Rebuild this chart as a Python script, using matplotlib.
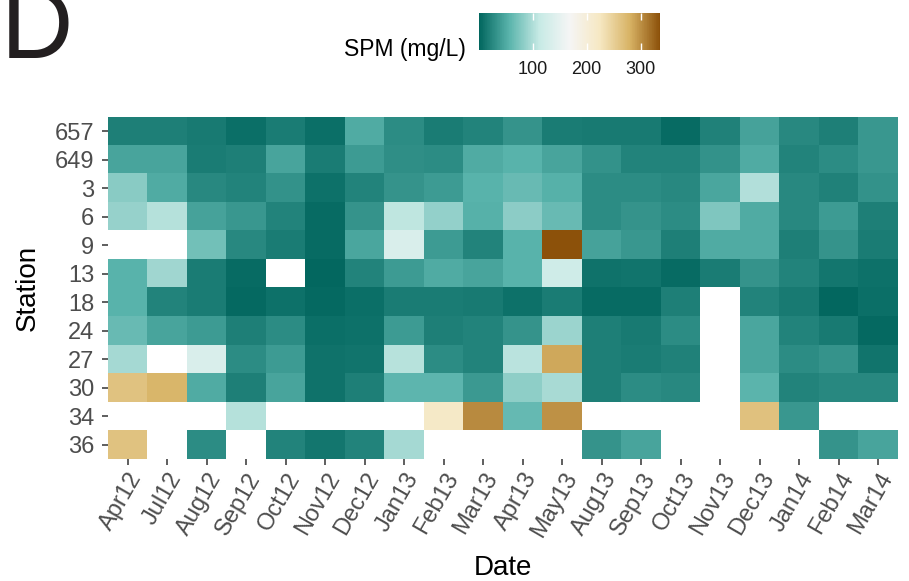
import numpy as np
import matplotlib
matplotlib.use("Agg")
import matplotlib.pyplot as plt
from matplotlib.colors import LinearSegmentedColormap

plt.rcParams["font.family"] = ["Liberation Sans", "DejaVu Sans"]

dates = ["Apr12", "Jul12", "Aug12", "Sep12", "Oct12", "Nov12", "Dec12", "Jan13",
         "Feb13", "Mar13", "Apr13", "May13", "Aug13", "Sep13", "Oct13", "Nov13",
         "Dec13", "Jan14", "Feb14", "Mar14"]
stations = ["657", "649", "3", "6", "9", "13", "18", "24", "27", "30", "34", "36"]

nan = np.nan
# SPM (mg/L), one list per station, one value per date
spm_657 = [19, 19, 15, 7, 16, 7, 51, 28, 17, 21, 33, 16, 15, 15, 5, 20, 44, 26, 19, 36]
spm_649 = [45, 45, 16, 19, 45, 16, 39, 30, 28, 50, 56, 45, 32, 21, 22, 32, 51, 21, 28, 36]
spm_3 = [81, 50, 25, 21, 32, 9, 21, 34, 39, 56, 64, 54, 28, 28, 26, 47, 102, 26, 20, 32]
spm_6 = [87, 103, 44, 36, 22, 5, 33, 108, 86, 54, 82, 63, 28, 34, 28, 76, 51, 26, 39, 19]
spm_9 = [nan, nan, 69, 26, 16, 5, 46, 135, 39, 21, 56, 337, 44, 36, 19, 50, 51, 19, 33, 16]
spm_13 = [56, 93, 16, 5, nan, 2, 21, 39, 50, 45, 56, 123, 10, 11, 5, 16, 33, 21, 13, 8]
spm_18 = [56, 21, 16, 3, 9, 3, 7, 16, 17, 15, 8, 17, 4, 4, 19, nan, 21, 15, 2, 7]
spm_24 = [63, 45, 39, 19, 28, 7, 8, 39, 19, 21, 34, 90, 19, 15, 28, nan, 47, 21, 15, 3]
spm_27 = [95, nan, 135, 28, 39, 10, 11, 104, 28, 21, 105, 285, 19, 16, 20, nan, 47, 28, 34, 11]
spm_30 = [263, 276, 51, 19, 45, 10, 19, 59, 59, 37, 83, 97, 19, 28, 26, nan, 57, 22, 26, 26]
spm_34 = [nan, nan, nan, 103, nan, nan, nan, nan, 218, 303, 62, 299, nan, nan, nan, nan, 264, 36, nan, nan]
spm_36 = [263, nan, 28, nan, 21, 13, 21, 95, nan, nan, nan, nan, 33, 45, nan, nan, nan, nan, 33, 45]

grid = np.array([spm_657, spm_649, spm_3, spm_6, spm_9, spm_13, spm_18,
                 spm_24, spm_27, spm_30, spm_34, spm_36], dtype=float)

# BrBG (7 classes), teal for low values
brbg = ["#01665e", "#5ab4ac", "#c7eae5", "#f5f5f5", "#f6e8c3", "#d8b365", "#8c510a"]
cmap = LinearSegmentedColormap.from_list("brbg7", brbg)
cmap.set_bad("white")
vmin, vmax = 0, 336

fig = plt.figure(figsize=(9.09, 5.81), dpi=100)
ax = fig.add_axes([108 / 909, 1 - 459 / 581, 790 / 909, 342 / 581])
im = ax.imshow(np.ma.masked_invalid(grid), cmap=cmap, vmin=vmin, vmax=vmax,
               aspect="auto", interpolation="nearest")

ax.set_xticks(range(len(dates)))
ax.set_xticklabels(dates, rotation=60, ha="right", va="top",
                   rotation_mode="anchor", fontsize=17, color="#4d4d4d")
ax.set_yticks(range(len(stations)))
ax.set_yticklabels(stations, fontsize=17, color="#4d4d4d")
ax.tick_params(length=4, width=1.1, color="#333333")
ax.tick_params(axis="x", pad=3)
ax.tick_params(axis="y", pad=6)
for s in ax.spines.values():
    s.set_visible(False)
ax.set_xlabel("Date", fontsize=20, labelpad=10)
ax.set_ylabel("Station", fontsize=20, labelpad=10)

# legend bar at the top
cax = fig.add_axes([479 / 909, 1 - 50 / 581, 181 / 909, 37 / 581])
cb = fig.colorbar(im, cax=cax, orientation="horizontal", ticks=[100, 200, 300])
cb.outline.set_visible(False)
cax.tick_params(axis="x", direction="in", length=5, width=1, colors="white",
                labelcolor="#1a1a1a", labelsize=13, top=True, bottom=True, pad=8)
fig.text(466 / 909, 1 - 56 / 581, "SPM (mg/L)", fontsize=16.5, ha="right", va="baseline")

fig.text(0.001, 1 - 58 / 581, "D", fontsize=72, ha="left", va="baseline", color="#231f20")

fig.savefig("out.png", dpi=100)
